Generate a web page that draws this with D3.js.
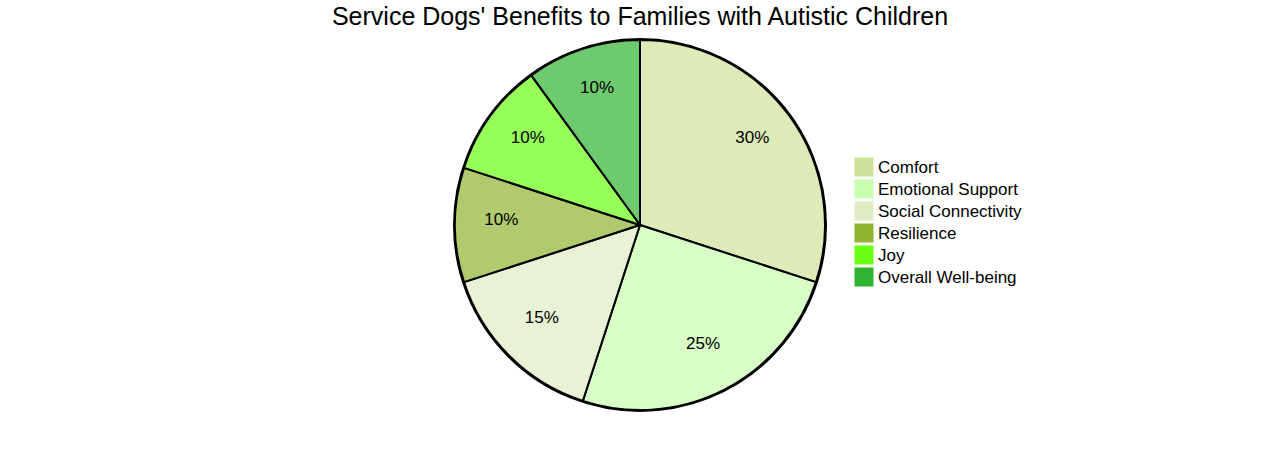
<!DOCTYPE html>
<html><head><meta charset="utf-8">
<script src="https://cdn.jsdelivr.net/npm/d3@7"></script>
<style>body{margin:0;background:#fff;}svg{display:block;font-family:"Liberation Sans",Arial,sans-serif;}</style>
</head><body>
<svg id="chart" width="1280" height="450"></svg>
<script>
const title = "Service Dogs' Benefits to Families with Autistic Children";
const categories = ["Comfort","Emotional Support","Social Connectivity","Resilience","Joy","Overall Well-being"];
const values = [30,25,15,10,10,10];
const colors = ["#cde298","#c8ffae","#e0ecc3","#8eb330","#69ff13","#30b330"];

const svg = d3.select("#chart");
const cx = 640, cy = 225, radius = 185;

svg.append("text").attr("x",640).attr("y",25).attr("text-anchor","middle")
  .attr("font-size",25).attr("fill","#000").text(title);

const color = d3.scaleOrdinal().domain(categories).range(colors);
const pie = d3.pie().sort(null).value(d=>d.v);
const data = pie(categories.map((c,i)=>({c, v: values[i]})));
const arc = d3.arc().innerRadius(0).outerRadius(radius);
const labelArc = d3.arc().innerRadius(radius*0.75).outerRadius(radius*0.75);
const total = d3.sum(values);

const g = svg.append("g").attr("transform",`translate(${cx},${cy})`);
g.append("circle").attr("r",radius+1).attr("fill","none").attr("stroke","#000").attr("stroke-width",2);
g.selectAll("path.slice").data(data).join("path").attr("class","slice")
  .attr("d",arc).attr("fill",d=>color(d.data.c)).attr("fill-opacity",0.7)
  .attr("stroke","#000").attr("stroke-width",2).attr("stroke-linejoin","round");
g.selectAll("text.lbl").data(data).join("text").attr("class","lbl")
  .attr("transform",d=>`translate(${labelArc.centroid(d)})`)
  .attr("text-anchor","middle").attr("font-size",17).attr("fill","#000")
  .text(d=>Math.round(d.data.v/total*100)+"%");

const leg = svg.append("g").attr("transform","translate(855,158)");
const items = leg.selectAll("g").data(categories).join("g")
  .attr("transform",(d,i)=>`translate(0,${i*22})`);
items.append("rect").attr("width",18).attr("height",18).attr("fill",d=>color(d)).attr("stroke",d=>color(d));
items.append("text").attr("x",23).attr("y",15).attr("font-size",17).attr("fill","#000").text(d=>d);
</script>
</body></html>
